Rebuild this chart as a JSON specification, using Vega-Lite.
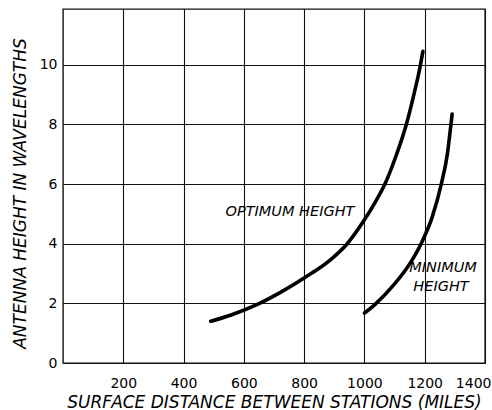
{
  "$schema": "https://vega.github.io/schema/vega-lite/v6.json",
  "width": 422,
  "height": 354,
  "autosize": {"type": "none"},
  "padding": {"left": 63, "top": 9, "right": 7, "bottom": 47},
  "background": "white",
  "config": {
    "font": "DejaVu Sans",
    "view": {"stroke": "#111", "strokeWidth": 1.4}
  },
  "datasets": {
    "curves": [
      {"curve": "Optimum", "distance": 490, "height": 1.40},
      {"curve": "Optimum", "distance": 560, "height": 1.62},
      {"curve": "Optimum", "distance": 652, "height": 2.0},
      {"curve": "Optimum", "distance": 720, "height": 2.36},
      {"curve": "Optimum", "distance": 800, "height": 2.85},
      {"curve": "Optimum", "distance": 886, "height": 3.45},
      {"curve": "Optimum", "distance": 943, "height": 4.0},
      {"curve": "Optimum", "distance": 1000, "height": 4.8},
      {"curve": "Optimum", "distance": 1035, "height": 5.38},
      {"curve": "Optimum", "distance": 1068, "height": 6.0},
      {"curve": "Optimum", "distance": 1105, "height": 6.95},
      {"curve": "Optimum", "distance": 1139, "height": 8.0},
      {"curve": "Optimum", "distance": 1164, "height": 9.0},
      {"curve": "Optimum", "distance": 1186, "height": 10.0},
      {"curve": "Optimum", "distance": 1194, "height": 10.45},
      {"curve": "Minimum", "distance": 1000, "height": 1.67},
      {"curve": "Minimum", "distance": 1039, "height": 2.0},
      {"curve": "Minimum", "distance": 1100, "height": 2.65},
      {"curve": "Minimum", "distance": 1155, "height": 3.4},
      {"curve": "Minimum", "distance": 1188, "height": 4.0},
      {"curve": "Minimum", "distance": 1225, "height": 4.9},
      {"curve": "Minimum", "distance": 1255, "height": 6.0},
      {"curve": "Minimum", "distance": 1275, "height": 7.0},
      {"curve": "Minimum", "distance": 1287, "height": 8.0},
      {"curve": "Minimum", "distance": 1291, "height": 8.35}
    ],
    "labels": [
      {"label": "OPTIMUM HEIGHT", "distance": 753, "height": 5.06},
      {"label": "MINIMUM", "distance": 1261, "height": 3.19},
      {"label": "HEIGHT", "distance": 1254, "height": 2.55}
    ]
  },
  "layer": [
    {
      "data": {"name": "curves"},
      "mark": {"type": "line", "interpolate": "monotone", "color": "black", "strokeWidth": 3.6, "strokeCap": "round"},
      "encoding": {
        "x": {
          "field": "distance",
          "type": "quantitative",
          "scale": {"domain": [0, 1400], "nice": false, "zero": false},
          "axis": {
            "values": [200, 400, 600, 800, 1000, 1200, 1400],
            "format": "d",
            "grid": true,
            "gridColor": "#111",
            "gridWidth": 1.1,
            "gridOpacity": 1,
            "ticks": false,
            "tickSize": 0,
            "domain": false,
            "labelFontSize": 14,
            "labelColor": "black",
            "labelBaseline": "middle",
            "labelPadding": 20,
            "labelFlush": true,
            "labelFlushOffset": 6,
            "labelOverlap": false,
            "title": "SURFACE DISTANCE BETWEEN STATIONS (MILES)",
            "titleFontSize": 17,
            "titleFontStyle": "italic",
            "titleFontWeight": "normal",
            "titleColor": "black",
            "titleBaseline": "middle",
            "titleY": 39
          }
        },
        "y": {
          "field": "height",
          "type": "quantitative",
          "scale": {"domain": [0, 11.87], "nice": false, "zero": false},
          "axis": {
            "values": [0, 2, 4, 6, 8, 10],
            "format": "d",
            "grid": true,
            "gridColor": "#111",
            "gridWidth": 1.1,
            "gridOpacity": 1,
            "ticks": false,
            "tickSize": 0,
            "domain": false,
            "labelFontSize": 14,
            "labelColor": "black",
            "labelPadding": 6,
            "labelBaseline": "middle",
            "labelFlush": false,
            "title": "ANTENNA  HEIGHT IN WAVELENGTHS",
            "titleFontSize": 17,
            "titleFontStyle": "italic",
            "titleFontWeight": "normal",
            "titleColor": "black",
            "titleAngle": 270,
            "titleBaseline": "middle",
            "titleAlign": "center",
            "titleX": -43,
            "titleY": 184
          }
        },
        "detail": {"field": "curve"}
      }
    },
    {
      "data": {"name": "labels"},
      "mark": {"type": "text", "fontStyle": "italic", "fontSize": 14.5, "align": "center", "baseline": "middle", "color": "black"},
      "encoding": {
        "x": {"field": "distance", "type": "quantitative"},
        "y": {"field": "height", "type": "quantitative"},
        "text": {"field": "label"}
      }
    }
  ]
}
